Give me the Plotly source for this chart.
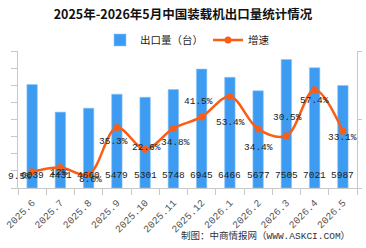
import plotly.graph_objects as go

categories = ["2025.6", "2025.7", "2025.8", "2025.9", "2025.10", "2025.11",
              "2025.12", "2026.1", "2026.2", "2026.3", "2026.4", "2026.5"]
export_volume = [6039, 4431, 4660, 5479, 5301, 5748, 6945, 6466, 5677, 7505, 7021, 5987]
growth_rate = [9.5, 12, 8.0, 35.3, 22.6, 34.8, 41.5, 53.4, 34.4, 30.5, 57.4, 33.1]
growth_labels = ["9.5%", "12%", "8.0%", "35.3%", "22.6%", "34.8%",
                 "41.5%", "53.4%", "34.4%", "30.5%", "57.4%", "33.1%"]
# label offsets in pixels (style only): right, down
label_dx = [-13, -2, 2, -3, 1, 2, -3, 1, 0, 1, 0, 0]
label_dy = [5, 5, 5, 14, -2, 14, -15, 26, 18, -18, 11, 6]

num_font = "Liberation Mono, DejaVu Sans Mono, monospace"
cjk_font = "Noto Sans CJK SC, sans-serif"

fig = go.Figure()
fig.add_trace(go.Bar(
    x=categories, y=export_volume, name="出口量（台）",
    marker=dict(color="#3d9cf1", line=dict(color="#8ec6f7", width=0.6)),
    width=0.37, yaxis="y",
))
fig.add_trace(go.Scatter(
    x=categories, y=growth_rate, name="增速",
    mode="lines+markers",
    line=dict(color="#fa5e16", width=2.5, shape="spline", smoothing=1),
    marker=dict(color="#fa5e16", size=7),
    yaxis="y2", cliponaxis=False,
))

annotations = []
for i, v in enumerate(export_volume):
    annotations.append(dict(x=i, y=0, xref="x", yref="y", text=str(v),
                            showarrow=False, xanchor="center", yanchor="middle",
                            yshift=13, font=dict(family=num_font, size=9.5, color="#222")))
for i, (g, t, dx, dy) in enumerate(zip(growth_rate, growth_labels, label_dx, label_dy)):
    annotations.append(dict(x=i, y=g, xref="x", yref="y2", text=t,
                            showarrow=False, xanchor="center", yanchor="middle",
                            xshift=dx, yshift=-dy,
                            font=dict(family=num_font, size=9.5, color="#222")))
annotations.append(dict(text="制图：中商情报网（WWW.ASKCI.COM）", xref="paper", yref="paper",
                        x=(356 - 8) / 353, xanchor="right", y=-(236 - 188) / 137,
                        yanchor="middle", showarrow=False,
                        font=dict(family="Liberation Mono, Noto Sans CJK SC, monospace",
                                  size=9.5, color="#333")))

fig.update_layout(
    width=366, height=248,
    margin=dict(l=8, r=5, t=51, b=60),
    paper_bgcolor="white", plot_bgcolor="white",
    title=dict(text="<b>2025年-2026年5月中国装载机出口量统计情况</b>",
               x=0.5, xanchor="center", y=1 - 15 / 248, yanchor="middle",
               font=dict(family=cjk_font, size=12.5, color="#111")),
    legend=dict(orientation="h", x=0.5, xanchor="center", y=1 + 11 / 137,
                yanchor="middle", font=dict(family=cjk_font, size=10.5, color="#222"),
                itemwidth=30, tracegroupgap=0, bgcolor="rgba(0,0,0,0)"),
    showlegend=True,
    bargap=0.63,
    xaxis=dict(type="category", range=[-0.5, len(categories) - 0.5],
               showline=True, linecolor="#c8c8c8", linewidth=1,
               ticks="outside", tickson="boundaries", ticklen=6, tickcolor="#c8c8c8",
               tickangle=-45, tickfont=dict(family=num_font, size=10, color="#555"),
               ticklabelstandoff=4, showgrid=False),
    yaxis=dict(range=[0, 8000], dtick=1000, showline=True, linecolor="#c8c8c8",
               ticks="outside", ticklen=6, tickcolor="#c8c8c8",
               showticklabels=False, showgrid=False, zeroline=False),
    yaxis2=dict(range=[0, 80], dtick=40, overlaying="y", side="right",
                showline=True, linecolor="#c8c8c8", ticks="outside", ticklen=4,
                tickcolor="#c8c8c8", showticklabels=False, showgrid=False,
                zeroline=False),
    annotations=annotations,
)

fig.write_html("out.html")
